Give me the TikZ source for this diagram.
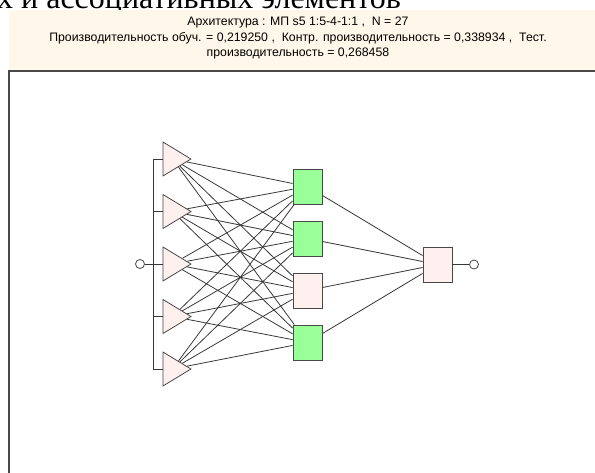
\documentclass[tikz,border=0pt]{standalone}
\usepackage{fontspec}
\setmainfont{Liberation Sans}
\newfontfamily\docfont{Liberation Serif}
\usetikzlibrary{shapes.geometric}
\definecolor{headbg}{RGB}{255,248,234}
\definecolor{nodeedge}{RGB}{72,72,72}
\definecolor{passive}{RGB}{255,240,240}
\definecolor{active}{RGB}{153,255,153}
\tikzset{
    neuron/.style={draw=nodeedge, line width=0.9pt, minimum width=29pt, minimum height=35pt, inner sep=0pt},
    inneuron/.style={isosceles triangle, isosceles triangle stretches, draw=nodeedge, line width=0.8pt,
        fill=passive, minimum width=34pt, minimum height=28pt, inner sep=0pt, anchor=apex},
    port/.style={circle, draw=nodeedge, line width=0.8pt, fill=white, minimum size=9pt, inner sep=0pt},
    link/.style={draw=black!78, line width=0.8pt}
}
\begin{document}
\begin{tikzpicture}[x=1pt,y=-1pt]
    \useasboundingbox (0,0) rectangle (595,472);
    \clip (0,0) rectangle (595,472);
    % page text above the window
    \node[font=\docfont\fontsize{32}{32}\selectfont, anchor=base west, inner sep=0pt] (doc) at (-3,8)
        {х и ассоциативных элементов};
    % window header
    \fill[headbg] (9,10) rectangle (600,71);
    \draw[nodeedge, line width=1.2pt] (9,480) -- (9,71) -- (600,71);
    \node[font=\fontsize{12.3}{15.5}\selectfont, align=center] (title) at (298,38)
        {Архитектура : МП s5 1:5-4-1:1 ,\ \ N = 27\\
         Производительность обуч. = 0,219250 ,\ \ Контр. производительность = 0,338934 ,\ \ Тест.\\
         производительность = 0,268458};
    % input layer
    \node[port] (in) at (140,264) {};
    \foreach \i in {1,...,5} {
        \node[inneuron] (t\i) at (192,{159+52.5*(\i-1)}) {};
        \coordinate (b\i) at (153,{159+52.5*(\i-1)});
    }
    % hidden layer
    \node[neuron, fill=active]  (h1) at (307.5,186.5) {};
    \node[neuron, fill=active]  (h2) at (307.5,238.5) {};
    \node[neuron, fill=passive] (h3) at (307.5,290.5) {};
    \node[neuron, fill=active]  (h4) at (307.5,342.5) {};
    % output layer
    \node[neuron, fill=passive] (o1) at (437.5,264.5) {};
    \node[port] (out) at (474,264.5) {};
    % connections
    \draw[link] (b1) -- (b5);
    \draw[link] (in) -- (b3);
    \foreach \i in {1,...,5} {
        \draw[link] (b\i) -- (t\i);
        \foreach \j in {1,...,4}
            \draw[link] (t\i) -- (h\j);
    }
    \foreach \j in {1,...,4}
        \draw[link] (h\j) -- (o1);
    \draw[link] (o1) -- (out);
\end{tikzpicture}
\end{document}
